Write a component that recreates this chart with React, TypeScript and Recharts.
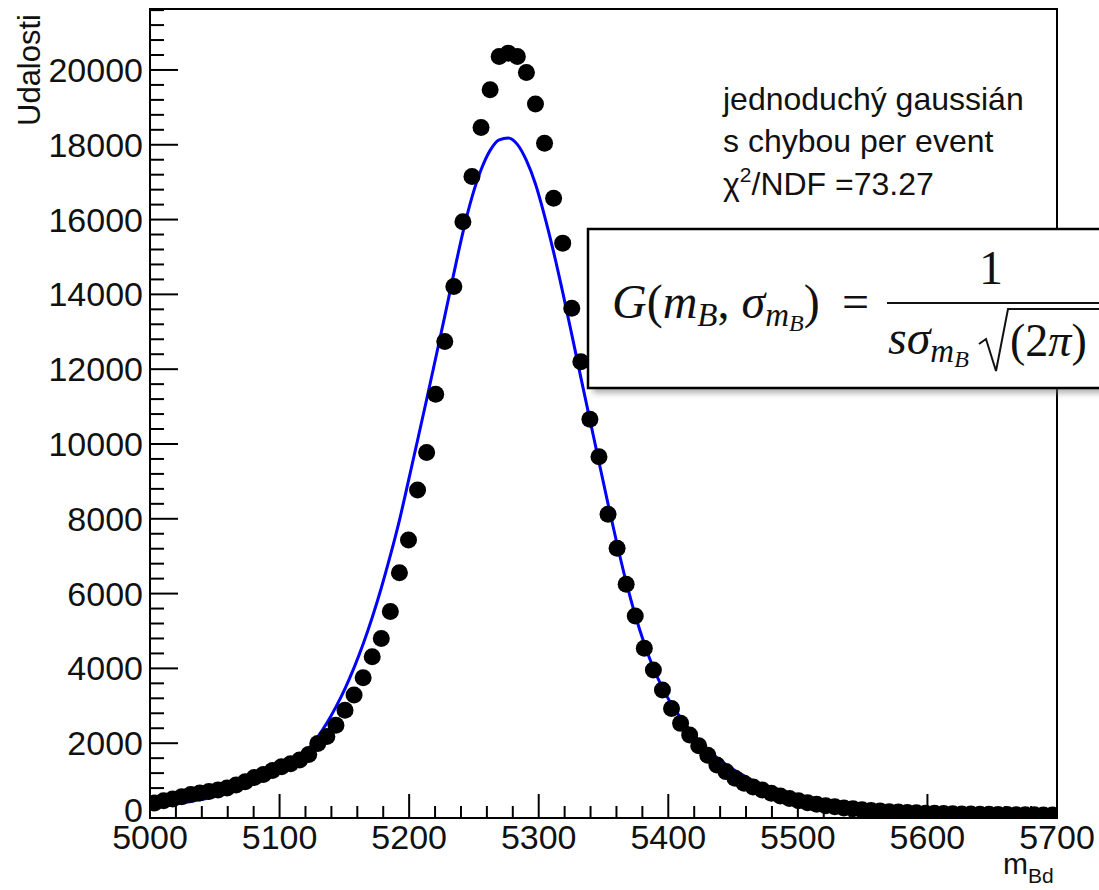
import React from "react";
import {
  ComposedChart,
  Scatter,
  Line,
  XAxis,
  YAxis,
  ReferenceArea,
} from "recharts";

// bin centres (7 MeV bins, 5000-5700)
const massBins = [
  5003.5, 5010.5, 5017.5, 5024.5, 5031.5, 5038.5, 5045.5, 5052.5, 5059.5, 5066.5,
  5073.5, 5080.5, 5087.5, 5094.5, 5101.5, 5108.5, 5115.5, 5122.5, 5129.5, 5136.5,
  5143.5, 5150.5, 5157.5, 5164.5, 5171.5, 5178.5, 5185.5, 5192.5, 5199.5, 5206.5,
  5213.5, 5220.5, 5227.5, 5234.5, 5241.5, 5248.5, 5255.5, 5262.5, 5269.5, 5276.5,
  5283.5, 5290.5, 5297.5, 5304.5, 5311.5, 5318.5, 5325.5, 5332.5, 5339.5, 5346.5,
  5353.5, 5360.5, 5367.5, 5374.5, 5381.5, 5388.5, 5395.5, 5402.5, 5409.5, 5416.5,
  5423.5, 5430.5, 5437.5, 5444.5, 5451.5, 5458.5, 5465.5, 5472.5, 5479.5, 5486.5,
  5493.5, 5500.5, 5507.5, 5514.5, 5521.5, 5528.5, 5535.5, 5542.5, 5549.5, 5556.5,
  5563.5, 5570.5, 5577.5, 5584.5, 5591.5, 5598.5, 5605.5, 5612.5, 5619.5, 5626.5,
  5633.5, 5640.5, 5647.5, 5654.5, 5661.5, 5668.5, 5675.5, 5682.5, 5689.5, 5696.5,
];

// events per bin
const events = [
  400, 460, 510, 570, 630, 670, 710, 750, 800, 880,
  970, 1080, 1160, 1270, 1370, 1450, 1550, 1700, 1990, 2180,
  2480, 2880, 3290, 3750, 4310, 4800, 5520, 6560, 7430, 8770,
  9770, 11330, 12740, 14210, 15940, 17150, 18460, 19470, 20360, 20450,
  20360, 19930, 19090, 18040, 16570, 15370, 13630, 12200, 10660, 9660,
  8120, 7210, 6250, 5400, 4540, 3960, 3420, 2930, 2530, 2220,
  1930, 1680, 1420, 1240, 1060, 930, 830, 750, 660, 590,
  520, 460, 410, 370, 330, 300, 270, 245, 220, 200,
  185, 170, 160, 150, 140, 130, 124, 118, 112, 108,
  104, 100, 97, 94, 91, 88, 86, 84, 82, 80,
];

// fitted curve at the same bin centres
const fitValues = [
  310, 335, 365, 400, 440, 485, 535, 595, 660, 735,
  820, 910, 1010, 1120, 1250, 1410, 1610, 1860, 2170, 2540,
  2970, 3460, 4020, 4650, 5360, 6150, 7020, 7960, 9020, 10100,
  11190, 12300, 13420, 14560, 15660, 16600, 17330, 17850, 18130, 18180,
  18010, 17580, 16950, 16100, 15130, 14060, 12930, 11780, 10650, 9520,
  8400, 7320, 6310, 5420, 4660, 4010, 3480, 3040, 2680, 2360,
  2070, 1820, 1610, 1430, 1270, 1130, 1000, 890, 795, 715,
  645, 585, 530, 480, 435, 395, 358, 326, 298, 273,
  250, 230, 212, 196, 182, 169, 157, 146, 136, 127,
  119, 112, 106, 100, 95, 91, 87, 84, 81, 78,
];

const xTicks = [
  5000, 5020, 5040, 5060, 5080, 5100, 5120, 5140, 5160, 5180, 5200, 5220,
  5240, 5260, 5280, 5300, 5320, 5340, 5360, 5380, 5400, 5420, 5440, 5460,
  5480, 5500, 5520, 5540, 5560, 5580, 5600, 5620, 5640, 5660, 5680, 5700,
];
const yTicks = [
  0, 400, 800, 1200, 1600, 2000, 2400, 2800, 3200, 3600, 4000, 4400, 4800,
  5200, 5600, 6000, 6400, 6800, 7200, 7600, 8000, 8400, 8800, 9200, 9600,
  10000, 10400, 10800, 11200, 11600, 12000, 12400, 12800, 13200, 13600,
  14000, 14400, 14800, 15200, 15600, 16000, 16400, 16800, 17200, 17600,
  18000, 18400, 18800, 19200, 19600, 20000, 20400, 20800, 21200, 21600,
];

const Y_MAX = 21630;

const rows = massBins.map((m, i) => ({ m, n: events[i], fit: fitValues[i] }));

const FONT = "'Liberation Sans', Arial, Helvetica, sans-serif";
const SERIF = "'Liberation Serif', 'Times New Roman', serif";

const XTick = (props: any) => {
  const { x, y, payload } = props;
  const major = payload.value % 100 === 0;
  return (
    <g>
      <line x1={x} x2={x} y1={y} y2={y - (major ? 24 : 12)} stroke="#000" strokeWidth={2} />
      {major && (
        <text x={x} y={y + 31} textAnchor="middle" fontSize={34} fontFamily={FONT} fill="#111">
          {payload.value}
        </text>
      )}
    </g>
  );
};

const YTick = (props: any) => {
  const { x, y, payload } = props;
  const major = payload.value % 2000 === 0;
  return (
    <g>
      <line x1={x} x2={x + (major ? 28 : 14)} y1={y} y2={y} stroke="#000" strokeWidth={2} />
      {major && (
        <text
          x={x - 7}
          y={payload.value === 0 ? y + 4 : y + 12}
          textAnchor="end"
          fontSize={34}
          fontFamily={FONT}
          fill="#111"
        >
          {payload.value}
        </text>
      )}
    </g>
  );
};

const Dot = (props: any) => <circle cx={props.cx} cy={props.cy} r={8.5} fill="#000" />;

const Overlay = () => (
  <svg
    width={1099}
    height={890}
    style={{ position: "absolute", left: 0, top: 0, pointerEvents: "none" }}
  >
    <defs>
      <filter id="shadow" x="-10%" y="-10%" width="130%" height="140%">
        <feGaussianBlur stdDeviation="3" />
      </filter>
    </defs>

    {/* axis titles */}
    <text
      transform="translate(40,14) rotate(-90)"
      textAnchor="end"
      fontSize={31}
      fontFamily={FONT}
      fill="#111"
    >
      Udalosti
    </text>
    <text x={1003} y={874} fontSize={30} fontFamily={FONT} fill="#111">
      m<tspan fontSize={21} dy={9}>Bd</tspan>
    </text>

    {/* fit info */}
    <g fontSize={32} fontFamily={FONT} fill="#111">
      <text x={723} y={110}>jednoduchý gaussián</text>
      <text x={723} y={152}>s chybou per event</text>
      <text x={723} y={195}>
        χ<tspan fontSize={21} dy={-13}>2</tspan>
        <tspan dy={13}>/NDF =73.27</tspan>
      </text>
    </g>

    {/* formula box */}
    <rect x={593} y={234} width={540} height={159} fill="#777" opacity={0.6} filter="url(#shadow)" />
    <rect x={588} y={229} width={540} height={159} fill="#fff" stroke="#000" strokeWidth={2.5} />
    <g fontFamily={SERIF} fill="#111">
      <text x={612} y={318} fontSize={48}>
        <tspan fontStyle="italic">G</tspan>
        <tspan>(</tspan>
        <tspan fontStyle="italic">m</tspan>
        <tspan fontStyle="italic" fontSize={33} dy={8}>B</tspan>
        <tspan dy={-8}>, </tspan>
        <tspan fontStyle="italic">σ</tspan>
        <tspan fontStyle="italic" fontSize={33} dy={8}>m</tspan>
        <tspan fontStyle="italic" fontSize={24} dy={5}>B</tspan>
        <tspan dy={-13}>)</tspan>
      </text>
      <text x={842} y={318} fontSize={48}>=</text>
      <text x={991} y={284} fontSize={48} textAnchor="middle">1</text>
      <line x1={887} x2={1099} y1={303} y2={303} stroke="#111" strokeWidth={2} />
      <text x={888} y={354} fontSize={48}>
        <tspan fontStyle="italic">sσ</tspan>
        <tspan fontStyle="italic" fontSize={33} dy={8}>m</tspan>
        <tspan fontStyle="italic" fontSize={24} dy={5}>B</tspan>
      </text>
      <path
        d="M979 344 L986 339 L996 371 L1008 309 L1099 309"
        fill="none"
        stroke="#111"
        strokeWidth={2}
      />
      <text x={1010} y={356} fontSize={46}>
        (2<tspan fontStyle="italic">π</tspan>)
      </text>
    </g>
  </svg>
);

export default function App() {
  return (
    <div style={{ position: "absolute", left: 0, top: 0, width: 1099, height: 890, background: "#fff" }}>
      <ComposedChart
        width={1099}
        height={890}
        data={rows}
        margin={{ top: 9, right: 42, left: 0, bottom: 0 }}
      >
        <XAxis
          dataKey="m"
          type="number"
          domain={[5000, 5700]}
          ticks={xTicks}
          interval={0}
          tickSize={0}
          tickMargin={0}
          tickLine={false}
          axisLine={{ stroke: "#000", strokeWidth: 2 }}
          tick={<XTick />}
          height={72}
          allowDataOverflow
        />
        <YAxis
          type="number"
          domain={[0, Y_MAX]}
          ticks={yTicks}
          interval={0}
          tickSize={0}
          tickMargin={0}
          tickLine={false}
          axisLine={{ stroke: "#000", strokeWidth: 2 }}
          tick={<YTick />}
          width={150}
          allowDataOverflow
        />
        <ReferenceArea
          x1={5000}
          x2={5700}
          y1={0}
          y2={Y_MAX}
          fill="none"
          stroke="#000"
          strokeWidth={2}
          ifOverflow="visible"
        />
        <Scatter dataKey="n" fill="#000" shape={<Dot />} isAnimationActive={false} />
        <Line
          dataKey="fit"
          type="monotone"
          stroke="#0000ff"
          strokeWidth={3}
          dot={false}
          isAnimationActive={false}
        />
      </ComposedChart>
      <Overlay />
    </div>
  );
}
